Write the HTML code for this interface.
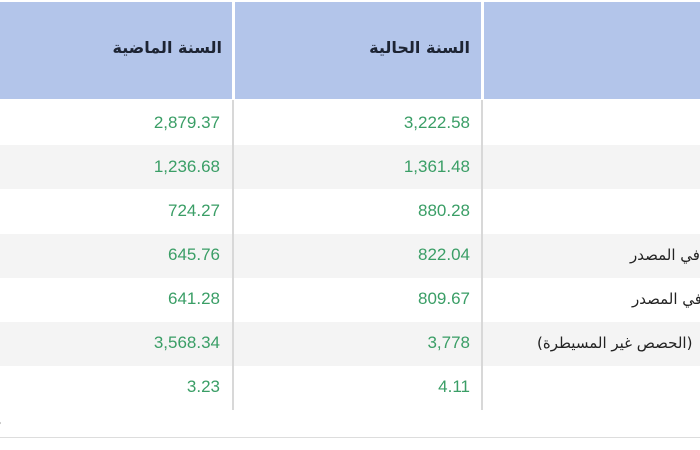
<!DOCTYPE html>
<html><head><meta charset="utf-8"><style>
body{margin:0;width:700px;height:450px;background:#fff;position:relative;overflow:hidden;font-family:"DejaVu Sans","Liberation Sans","Noto Sans CJK SC",sans-serif}
.a{position:absolute}
.h{background:#b3c5ea;top:2px;height:97px}
.row{left:0;width:700px;height:44px}
.g{background:#f4f4f4}
.n{position:absolute;color:#3a9e66;font-size:17px;font-family:"Liberation Sans",sans-serif;text-align:right;width:200px}
.t{position:absolute;color:#222;font-size:15px;white-space:nowrap}
.ht{position:absolute;color:#1d2433;font-size:16px;font-weight:bold;text-align:right;width:200px;top:38px}
.v{position:absolute;width:2px;background:#d8d8d8;top:100px;height:310px}
</style></head><body>
<div class="a h" style="left:0;width:232px"></div>
<div class="a h" style="left:235px;width:246px"></div>
<div class="a h" style="left:484px;width:216px"></div>
<div class="ht" style="left:22px" dir="rtl">السنة الماضية</div>
<div class="ht" style="left:270px" dir="rtl">السنة الحالية</div>

<div class="a row" style="top:100px"></div>
<div class="a row g" style="top:145px"></div>
<div class="a row" style="top:190px"></div>
<div class="a row g" style="top:234px"></div>
<div class="a row" style="top:278px"></div>
<div class="a row g" style="top:322px"></div>
<div class="a row" style="top:366px"></div>
<div class="v" style="left:232px"></div>
<div class="v" style="left:481px"></div>

<div class="n" style="left:20px;top:113px">2,879.37</div><div class="n" style="left:270px;top:113px">3,222.58</div>
<div class="n" style="left:20px;top:157px">1,236.68</div><div class="n" style="left:270px;top:157px">1,361.48</div>
<div class="n" style="left:20px;top:201px">724.27</div><div class="n" style="left:270px;top:201px">880.28</div>
<div class="n" style="left:20px;top:245px">645.76</div><div class="n" style="left:270px;top:245px">822.04</div>
<div class="n" style="left:20px;top:289px">641.28</div><div class="n" style="left:270px;top:289px">809.67</div>
<div class="n" style="left:20px;top:333px">3,568.34</div><div class="n" style="left:270px;top:333px">3,778</div>
<div class="n" style="left:20px;top:377px">3.23</div><div class="n" style="left:270px;top:377px">4.11</div>

<div class="t" style="left:630px;top:246px" dir="rtl">في المصدر</div>
<div class="t" style="left:632px;top:290px" dir="rtl">في المصدر</div>
<div class="t" style="left:537px;top:334px" dir="rtl">(الحصص غير المسيطرة)</div>
<div class="t" style="left:-6px;top:413px;font-size:14px">ه</div>
<div class="a" style="left:0;top:437px;width:700px;height:1px;background:#ddd"></div>
</body></html>
